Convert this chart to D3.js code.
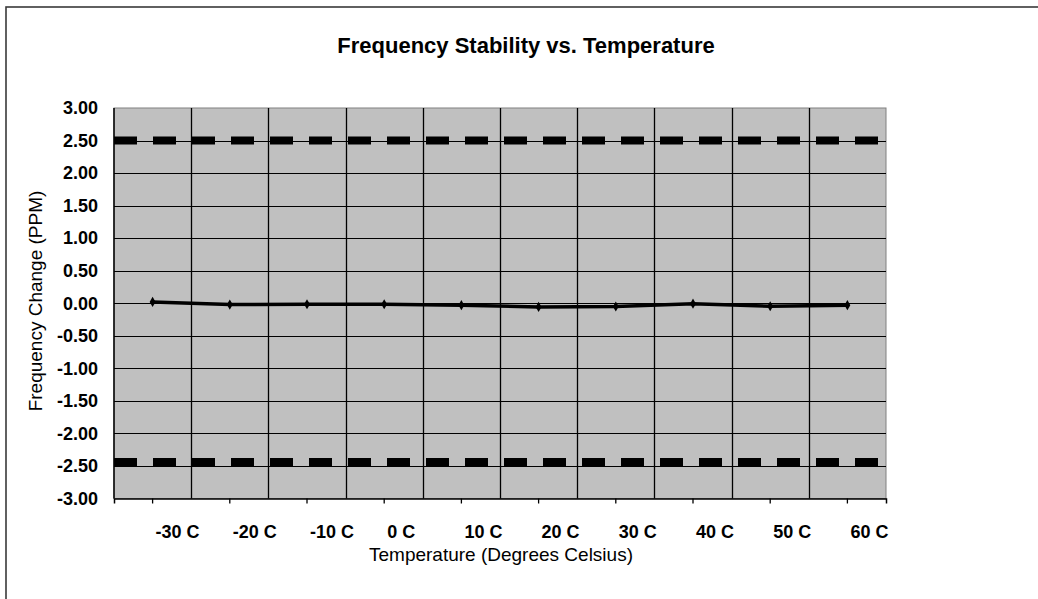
<!DOCTYPE html>
<html>
<head>
<meta charset="utf-8">
<script src="https://cdn.jsdelivr.net/npm/d3@7"></script>
<style>
  html, body { margin: 0; padding: 0; background: #ffffff; }
  svg { display: block; }
  text { font-family: "Liberation Sans", Arial, sans-serif; fill: #000; }
</style>
</head>
<body>
<svg id="chart" width="1038" height="599"></svg>
<script>
// ---- data ----
const chartTitle = "Frequency Stability vs. Temperature";
const xTitle = "Temperature (Degrees Celsius)";
const yTitle = "Frequency Change (PPM)";
const categories = ["-30 C", "-20 C", "-10 C", "0 C", "10 C", "20 C", "30 C", "40 C", "50 C", "60 C"];
const freqChange = [0.02, -0.02, -0.015, -0.015, -0.03, -0.057, -0.05, -0.006, -0.046, -0.03];
const upperLimit = 2.5;
const lowerLimit = -2.44;
const yTicks = [3, 2.5, 2, 1.5, 1, 0.5, 0, -0.5, -1, -1.5, -2, -2.5, -3];

// ---- layout ----
const svg = d3.select("#chart");
const plot = { left: 114, right: 886, top: 108, bottom: 498.5 };

const x = d3.scaleBand().domain(categories).range([plot.left, plot.right]).padding(0);
const y = d3.scaleLinear().domain([-3, 3]).range([plot.bottom, plot.top]);
const cx = c => x(c) + x.bandwidth() / 2;

// outer frame
svg.append("rect")
  .attr("x", 6).attr("y", 7).attr("width", 1100).attr("height", 700)
  .attr("fill", "none").attr("stroke", "#3a3a3a").attr("stroke-width", 1.6);

// title
svg.append("text")
  .attr("x", 526).attr("y", 53)
  .attr("text-anchor", "middle")
  .attr("font-size", 22).attr("font-weight", "bold")
  .text(chartTitle);

// plot background
svg.append("rect")
  .attr("x", plot.left).attr("y", plot.top)
  .attr("width", plot.right - plot.left).attr("height", plot.bottom - plot.top)
  .attr("fill", "#c0c0c0").attr("stroke", "#808080").attr("stroke-width", 1);

// horizontal gridlines
svg.append("g").selectAll("line")
  .data(yTicks.filter(v => v !== 3 && v !== -3))
  .join("line")
  .attr("x1", plot.left).attr("x2", plot.right)
  .attr("y1", d => Math.round(y(d)) + 0.5).attr("y2", d => Math.round(y(d)) + 0.5)
  .attr("stroke", "#000").attr("stroke-width", 1);

// vertical gridlines at category boundaries
svg.append("g").selectAll("line")
  .data(categories.slice(1))
  .join("line")
  .attr("x1", d => Math.round(x(d)) + 0.5).attr("x2", d => Math.round(x(d)) + 0.5)
  .attr("y1", plot.top).attr("y2", plot.bottom)
  .attr("stroke", "#000").attr("stroke-width", 1.3);

// limit lines (thick dashes)
[upperLimit, lowerLimit].forEach(v => {
  svg.append("line")
    .attr("x1", plot.left).attr("x2", plot.right)
    .attr("y1", y(v)).attr("y2", y(v))
    .attr("stroke", "#000").attr("stroke-width", 8)
    .attr("stroke-dasharray", "23,16");
});

// axes
const xAxis = d3.axisBottom(x).tickSize(5).tickFormat("");
const gx = svg.append("g").attr("transform", `translate(0,${plot.bottom})`).call(xAxis);
gx.select(".domain").attr("stroke", "#000").attr("stroke-width", 1.5);
gx.selectAll(".tick line").attr("stroke", "#000").attr("stroke-width", 1.3);

svg.append("line")
  .attr("x1", plot.left).attr("x2", plot.left)
  .attr("y1", plot.top).attr("y2", plot.bottom)
  .attr("stroke", "#000").attr("stroke-width", 1.5);

// x tick labels (left-aligned just right of the tick)
svg.append("g").selectAll("text")
  .data(categories)
  .join("text")
  .attr("x", d => cx(d) + 3).attr("y", 538)
  .attr("font-size", 18).attr("font-weight", "bold")
  .text(d => d);

// y tick labels
svg.append("g").selectAll("text")
  .data(yTicks)
  .join("text")
  .attr("x", 98).attr("y", d => y(d))
  .attr("dy", "0.35em")
  .attr("text-anchor", "end")
  .attr("font-size", 18).attr("font-weight", "bold")
  .text(d => d.toFixed(2));

// axis titles
svg.append("text")
  .attr("x", 501).attr("y", 561)
  .attr("text-anchor", "middle")
  .attr("font-size", 19)
  .text(xTitle);

svg.append("text")
  .attr("transform", "translate(42,301) rotate(-90)")
  .attr("text-anchor", "middle")
  .attr("font-size", 19)
  .text(yTitle);

// data line
const line = d3.line().x((d, i) => cx(categories[i])).y(d => y(d));
svg.append("path")
  .datum(freqChange)
  .attr("d", line)
  .attr("fill", "none").attr("stroke", "#000").attr("stroke-width", 3.5);

// diamond markers
svg.append("g").selectAll("path")
  .data(freqChange)
  .join("path")
  .attr("transform", (d, i) => `translate(${cx(categories[i])},${y(d)})`)
  .attr("d", d3.symbol().type(d3.symbolDiamond).size(30))
  .attr("fill", "#000");
</script>
</body>
</html>
